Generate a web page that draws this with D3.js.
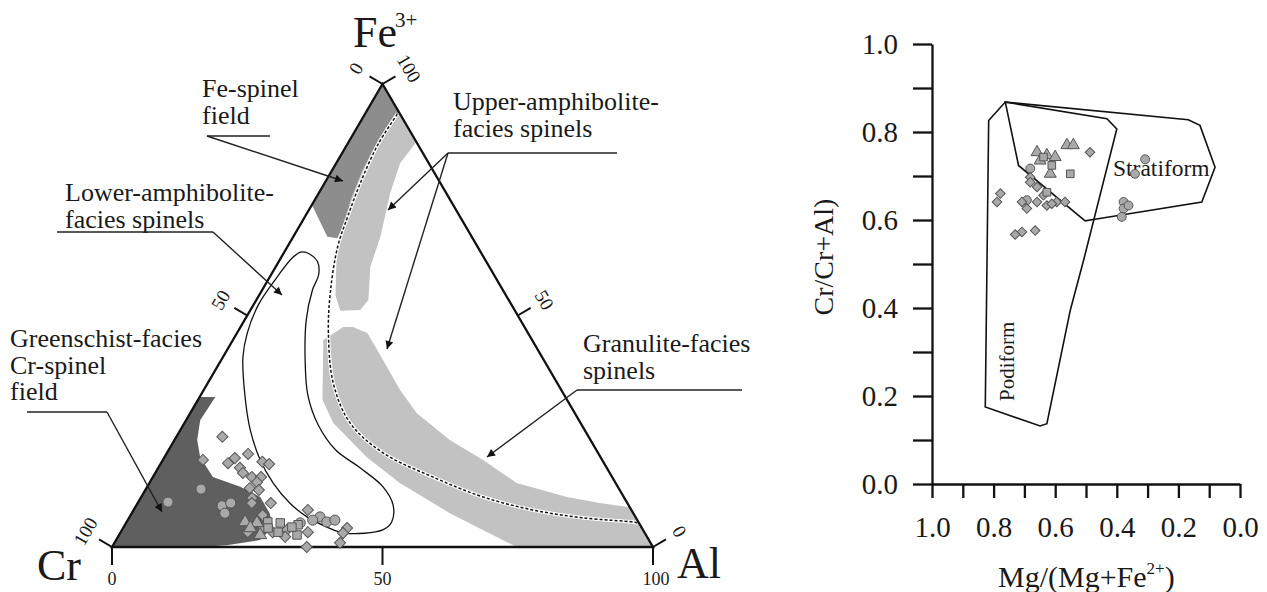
<!DOCTYPE html>
<html>
<head>
<meta charset="utf-8">
<script src="https://cdn.jsdelivr.net/npm/d3@7"></script>
<style>
body { margin: 0; background: #fff; }
</style>
</head>
<body>
<script>
//tick values
var ternaryTicks = [0, 50, 100];
var cdTicks = d3.range(0, 11).map(function(i){ return i / 10; });

//ternary fields, [Al, Fe3+] in % (Cr is the rest)
var greenschistField = [[0,0],[16.3,0],[21.0,0.4],[26.6,1.5],[27.6,4.3],[25.5,7.3],[22.0,10.8],[17.2,13.0],[11.1,15.1],[6.6,19.4],[4.2,23.1],[2.6,27.4],[2.9,32.4],[0,32.4]];
var feSpinelField = [[0,100],[6.1,93.9],[5.8,89.0],[5.7,86.8],[6.6,78.6],[7.9,71.3],[8.3,66.7],[6.3,67.0],[0,73.9]];
var upperAmphField = [[6.3,93.7],[12.5,87.3],[11.8,82.9],[13.2,76.5],[16.1,67.0],[17.5,60.5],[20.7,53.4],[20.3,51.2],[16.7,51.0],[14.1,54.4],[10.5,62.0],[8.4,68.5],[6.6,75.0],[5.6,81.4],[5.3,87.9],[5.7,92.7]];
var granuliteField = [[19.0,47.5],[16.7,44.7],[23.0,31.8],[27.5,26.8],[37.4,19.4],[46.3,13.8],[58.8,7.3],[74.8,0],[100,0],[91.4,8.6],[85.4,9.5],[78.7,10.8],[67.9,13.8],[59.2,18.8],[50.9,23.1],[41.9,28.9],[36.3,33.9],[29.9,40.4],[24.1,46.2],[20.8,47.5]];
var lowerAmphLine = [[3.0,63.7],[4.4,63.5],[7.2,61.6],[8.8,58.8],[9.3,55.5],[11.4,49.0],[15.5,40.4],[19.8,32.8],[24.9,26.4],[30.8,21.0],[37.3,17.1],[43.6,13.0],[47.4,9.1],[49.0,5.4],[48.2,3.7],[41.5,3.0],[37.6,4.3],[32.8,6.5],[28.1,9.5],[22.9,13.8],[18.0,18.8],[12.9,25.3],[8.4,32.4],[3.7,41.0],[1.9,46.2],[0.9,52.3],[1.3,57.7],[2.1,62.4]];
var dashedLine = [[6.0,93.5],[5.7,86.8],[6.6,78.6],[7.9,71.3],[9.3,64.8],[12.9,54.9],[16.9,46.2],[23.2,35.4],[30.6,26.8],[40.0,20.3],[51.8,15.1],[63.2,10.8],[73.8,8.0],[83.9,6.3],[93.6,5.4],[94.6,5.2]];

//ternary samples, [Al, Fe3+]
var ternDiamonds = [[8.5,23.8],[7.4,18.8],[12.4,18.1],[13.1,19.2],[15.1,20.1],[18.6,18.4],[20.1,17.9],[15.1,17.1],[16.2,16.0],[18.3,15.1],[20.0,15.1],[19.8,14.0],[19.1,12.7],[21.0,12.3],[20.6,10.6],[21.1,9.5],[24.6,9.5],[24.4,6.9],[23.5,3.2],[30.5,3.7],[32.2,8.0],[34.6,3.2],[36.0,0],[41.4,4.1],[41.2,3.0],[41.7,0.9],[30.9,2.2],[25.9,4.1],[28.1,3.2]];
var ternCircles = [[5.5,9.7],[10.2,12.5],[15.9,8.9],[17.2,9.5],[17.2,7.3],[35.2,6.5],[37.0,5.4],[34.2,5.8],[32.2,5.2],[38.3,5.8]];
var ternTriangles = [[21.9,5.4],[24.2,5.2],[26.1,2.6],[23.5,4.1]];
var ternSquares = [[26.1,5.4],[28.5,5.2],[32.0,4.8],[29.1,3.2],[32.9,2.6],[26.8,4.1],[31.1,4.3]];

//Cr# vs Mg# fields, [Mg#, Cr#]
var podiformField = [[0.816,0.826],[0.762,0.868],[0.432,0.830],[0.400,0.807],[0.508,0.508],[0.551,0.395],[0.627,0.137],[0.649,0.132],[0.827,0.175]];
var stratiformField = [[0.762,0.868],[0.168,0.828],[0.130,0.815],[0.081,0.720],[0.124,0.641],[0.476,0.601],[0.503,0.598],[0.719,0.724]];

//Cr# vs Mg# samples
var cdDiamonds = [[0.778,0.660],[0.789,0.641],[0.708,0.573],[0.730,0.567],[0.665,0.576],[0.487,0.754],[0.692,0.626],[0.708,0.641],[0.659,0.641],[0.627,0.633],[0.595,0.641],[0.568,0.641],[0.681,0.697],[0.681,0.686],[0.659,0.675],[0.638,0.656],[0.611,0.637]];
var cdCircles = [[0.681,0.717],[0.308,0.738],[0.341,0.705],[0.378,0.641],[0.378,0.626],[0.384,0.607],[0.362,0.633],[0.692,0.645]];
var cdTriangles = [[0.659,0.754],[0.627,0.747],[0.600,0.743],[0.562,0.770],[0.541,0.770],[0.616,0.705],[0.649,0.735]];
var cdSquares = [[0.551,0.705],[0.611,0.724],[0.627,0.663],[0.638,0.743]];

var width = 1267,
    height = 592;

var serif = "Liberation Serif";

var svg = d3.select("body")
    .append("svg")
    .attr("width", width)
    .attr("height", height)
    .style("font-family", serif);

//all text goes through here so the serif face sticks
function label(parent, size) {
    return parent.append("text")
        .style("font-family", serif)
        .attr("font-size", size)
        .attr("fill", "#1a1a1a");
}

//arrow head for the leader lines
svg.append("defs").append("marker")
    .attr("id", "arrow")
    .attr("viewBox", "0 0 10 10")
    .attr("refX", 10)
    .attr("refY", 5)
    .attr("markerWidth", 11)
    .attr("markerHeight", 8)
    .attr("markerUnits", "userSpaceOnUse")
    .attr("orient", "auto")
    .append("path")
    .attr("d", "M0,0L10,5L0,10z")
    .attr("fill", "#111");

//---------------- ternary plot ----------------
var tx = d3.scaleLinear().domain([0, 100]).range([112, 653]),
    ty = d3.scaleLinear().domain([0, 100]).range([547, 84]);

function tern(p) { return [tx(p[0] + p[1] / 2), ty(p[1])]; }

var ternLine = d3.line().x(function(d){ return tern(d)[0]; }).y(function(d){ return tern(d)[1]; });

var tern_g = svg.append("g").attr("class", "ternary");

function field(data, fill) {
    tern_g.append("path")
        .attr("d", ternLine.curve(d3.curveLinear)(data) + "Z")
        .attr("fill", fill);
}
field(greenschistField, "#5f5f5f");
field(feSpinelField, "#8d8d8d");
field(upperAmphField, "#c2c2c2");
field(granuliteField, "#c2c2c2");

//dashed line with a white halo
tern_g.append("path")
    .attr("d", ternLine.curve(d3.curveCatmullRom.alpha(0.5))(dashedLine))
    .attr("fill", "none").attr("stroke", "#fff").attr("stroke-width", 3.5);
tern_g.append("path")
    .attr("d", ternLine.curve(d3.curveCatmullRom.alpha(0.5))(dashedLine))
    .attr("fill", "none").attr("stroke", "#111").attr("stroke-width", 1.5)
    .attr("stroke-dasharray", "3,2");

//lower-amphibolite outline
tern_g.append("path")
    .attr("d", ternLine.curve(d3.curveCatmullRomClosed.alpha(0.5))(lowerAmphLine))
    .attr("fill", "none").attr("stroke", "#111").attr("stroke-width", 1.3);

//triangle frame
tern_g.append("path")
    .attr("d", ternLine.curve(d3.curveLinear)([[0,0],[100,0],[0,100]]) + "Z")
    .attr("fill", "none").attr("stroke", "#111").attr("stroke-width", 2.3);

//ticks: bottom is Al, left is Cr, right is Fe3+
var edges = [
    { pos: function(v){ return tern([v, 0]); }, n: [0, 1], rot: 0 },
    { pos: function(v){ return tern([0, 100 - v]); }, n: [-0.863, -0.504], rot: -60 },
    { pos: function(v){ return tern([100 - v, v]); }, n: [0.863, -0.504], rot: 60 }
];
edges.forEach(function(e){
    ternaryTicks.forEach(function(v){
        var p = e.pos(v), len = e.rot === 0 ? 18 : 15;
        tern_g.append("line")
            .attr("x1", p[0]).attr("y1", p[1])
            .attr("x2", p[0] + e.n[0] * len).attr("y2", p[1] + e.n[1] * len)
            .attr("stroke", "#111").attr("stroke-width", 2);
        if (e.rot === 0) {
            label(tern_g, 18)
                .attr("x", p[0] + (v === 100 ? 3 : 0)).attr("y", 585)
                .attr("text-anchor", "middle")
                .text(v);
        } else {
            var lx = p[0] + e.n[0] * 31, ly = p[1] + e.n[1] * 31;
            label(tern_g, 19)
                .attr("transform", "translate(" + lx + "," + ly + ") rotate(" + e.rot + ")")
                .attr("text-anchor", "middle")
                .attr("dy", "0.35em")
                .text(v);
        }
    });
});

//ternary samples
var markFill = "#a9a9a9", markStroke = "#555";
function marks(g, data, type, size, proj, rot) {
    g.selectAll(null)
        .data(data)
        .enter()
        .append("path")
        .attr("d", d3.symbol().type(type).size(size))
        .attr("transform", function(d){
            var p = proj(d);
            return "translate(" + p[0] + "," + p[1] + ")" + (rot ? " rotate(45)" : "");
        })
        .attr("fill", markFill)
        .attr("stroke", markStroke)
        .attr("stroke-width", 1);
}
marks(tern_g, ternCircles, d3.symbolCircle, 80, tern);
marks(tern_g, ternDiamonds, d3.symbolSquare, 62, tern, true);
marks(tern_g, ternTriangles, d3.symbolTriangle, 72, tern);
marks(tern_g, ternSquares, d3.symbolSquare, 72, tern);

//vertex labels
var fe = label(svg, 44).attr("x", 353).attr("y", 47).text("Fe");
fe.append("tspan").attr("x", 395).attr("y", 27).attr("font-size", 21).text("3+");
label(svg, 44).attr("x", 37).attr("y", 580).text("Cr");
label(svg, 44).attr("x", 677).attr("y", 578).text("Al");

//field labels with leader lines
var notes = [
    { x: 202, y: 97, lines: ["Fe-spinel", "field"], rule: [207, 136, 270], tips: [[343, 181]] },
    { x: 453, y: 110, lines: ["Upper-amphibolite-", "facies spinels"], rule: [448, 153, 617], tips: [[388, 210], [387, 349]] },
    { x: 65, y: 201, lines: ["Lower-amphibolite-", "facies spinels"], rule: [213, 232, 57], tips: [[282, 295]] },
    { x: 10, y: 347, lines: ["Greenschist-facies", "Cr-spinel", "field"], rule: [107, 412, 27], tips: [[162, 512]] },
    { x: 583, y: 352, lines: ["Granulite-facies", "spinels"], rule: [577, 390, 742], tips: [[487, 457]] }
];
notes.forEach(function(n){
    var t = label(svg, 26);
    n.lines.forEach(function(s, i){
        t.append("tspan").attr("x", n.x).attr("y", n.y + i * 26.5).text(s);
    });
    svg.append("line")
        .attr("x1", n.rule[0]).attr("y1", n.rule[1])
        .attr("x2", n.rule[2]).attr("y2", n.rule[1])
        .attr("stroke", "#222").attr("stroke-width", 1.4);
    n.tips.forEach(function(tp){
        svg.append("line")
            .attr("x1", n.rule[0]).attr("y1", n.rule[1])
            .attr("x2", tp[0]).attr("y2", tp[1])
            .attr("stroke", "#222").attr("stroke-width", 1.4)
            .attr("marker-end", "url(#arrow)");
    });
});

//---------------- Cr# vs Mg# plot ----------------
var cx = d3.scaleLinear().domain([1, 0]).range([932, 1240]),
    cy = d3.scaleLinear().domain([0, 1]).range([484, 44]);

var fmt = function(d){ return Math.round(d * 10) % 2 === 0 ? d.toFixed(1) : ""; };

var xAxis = svg.append("g")
    .attr("transform", "translate(0,484)")
    .call(d3.axisBottom(cx).tickValues(cdTicks).tickSize(14).tickSizeOuter(0).tickPadding(18).tickFormat(fmt));
var yAxis = svg.append("g")
    .attr("transform", "translate(932,0)")
    .call(d3.axisLeft(cy).tickValues(cdTicks).tickSize(19).tickSizeOuter(0).tickPadding(15).tickFormat(fmt));

[xAxis, yAxis].forEach(function(a){
    a.attr("font-family", null);
    a.selectAll("path, line").attr("stroke", "#111").attr("stroke-width", 2.3);
    a.selectAll("text")
        .style("font-family", serif)
        .attr("font-size", 29)
        .attr("fill", "#1a1a1a");
});

var cdLine = d3.line().x(function(d){ return cx(d[0]); }).y(function(d){ return cy(d[1]); });

svg.append("path").attr("d", cdLine(podiformField) + "Z")
    .attr("fill", "none").attr("stroke", "#111").attr("stroke-width", 1.6);
svg.append("path").attr("d", cdLine(stratiformField) + "Z")
    .attr("fill", "none").attr("stroke", "#111").attr("stroke-width", 1.6);

label(svg, 23.5).attr("x", 1113).attr("y", 176).text("Stratiform");
label(svg, 21).attr("transform", "translate(1014,401) rotate(-90)").text("Podiform");

var cdProj = function(d){ return [cx(d[0]), cy(d[1])]; };
var cd_g = svg.append("g");
marks(cd_g, cdCircles, d3.symbolCircle, 62, cdProj);
marks(cd_g, cdDiamonds, d3.symbolSquare, 46, cdProj, true);
marks(cd_g, cdTriangles, d3.symbolTriangle, 62, cdProj);
marks(cd_g, cdSquares, d3.symbolSquare, 58, cdProj);

//axis titles
label(svg, 28).attr("transform", "translate(833,257) rotate(-90)")
    .attr("text-anchor", "middle").text("Cr/Cr+Al)");
var xt = label(svg, 30).attr("x", 998).attr("y", 587);
xt.append("tspan").text("Mg/(Mg+Fe");
xt.append("tspan").attr("dy", -13).attr("font-size", 17).text("2+");
xt.append("tspan").attr("dy", 13).text(")");
</script>
</body>
</html>
